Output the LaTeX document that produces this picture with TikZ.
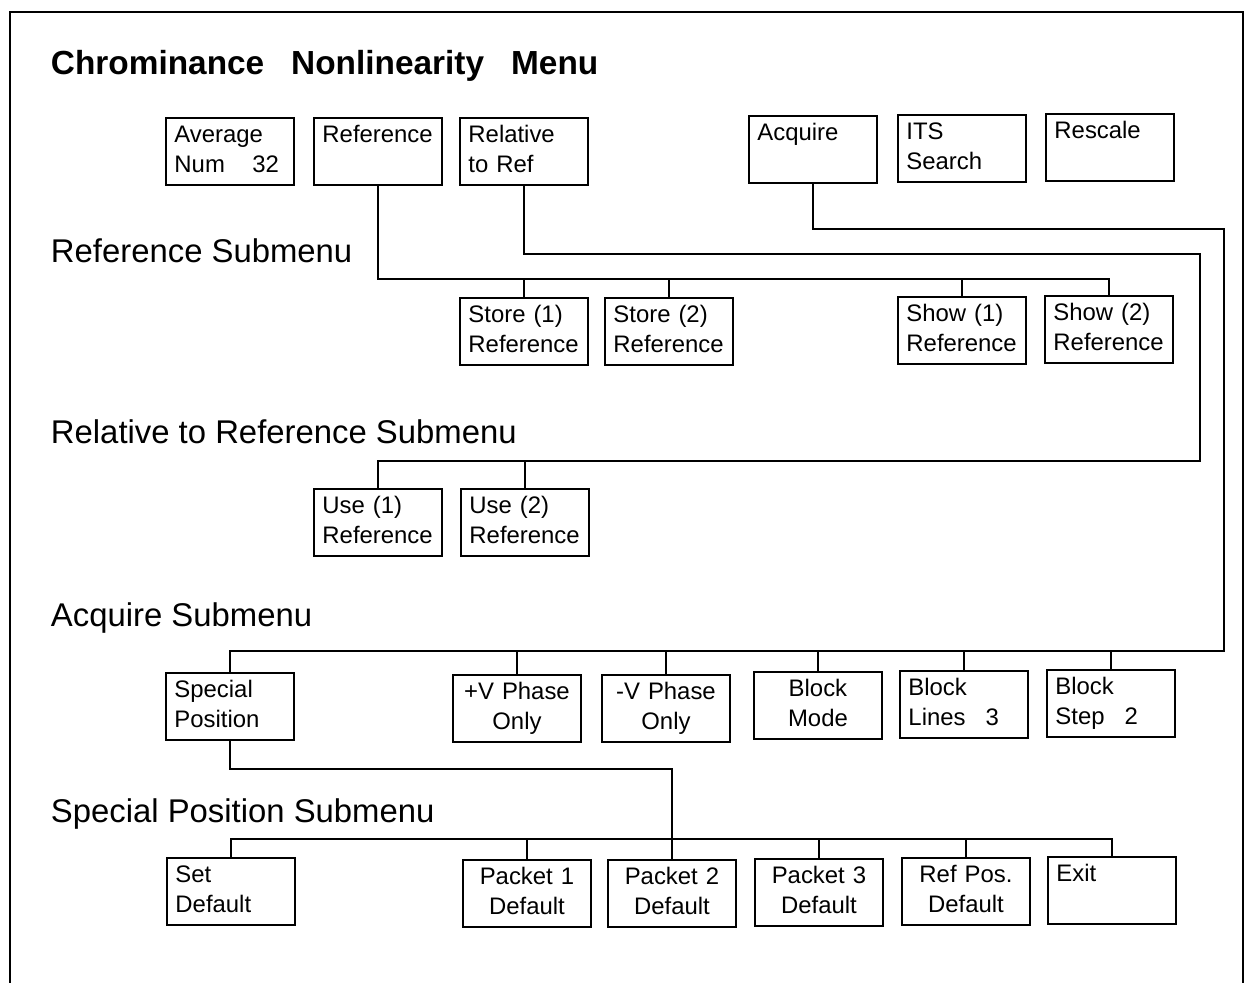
\documentclass[tikz,border=0pt]{standalone}
\usepackage{fontspec}
\setmainfont{Liberation Sans}
\newcommand{\mtext}[2]{\strut#1\\\strut#2}
\begin{document}
\begin{tikzpicture}[
		x=0.02cm, y=-0.02cm, line width=1.1pt,
		menubox/.style={draw, rectangle, anchor=north west, minimum width=2.56cm, minimum height=1.34cm,
			text width=2.22cm, inner xsep=0.17cm, inner ysep=0pt, align=left, font=\fontsize{13.6}{17.5}\selectfont},
		cbox/.style={menubox, align=center},
		heading/.style={anchor=base west, inner sep=0pt, font=\fontsize{18.7}{22}\selectfont},
		title/.style={anchor=base west, inner sep=0pt, font=\fontsize{19}{23}\selectfont\bfseries},
	]
	\useasboundingbox (0,0) rectangle (1252,983);
	\draw (10,983) -- (10,12) -- (1243,12) -- (1243,983);

	\node[title] (menu) at (50,75) {Chrominance\hspace{0.54cm}Nonlinearity\hspace{0.54cm}Menu};
	\node[heading] (hdref)  at (50,263) {Reference Submenu};
	\node[heading] (hdrel)  at (50,443) {Relative to Reference Submenu};
	\node[heading] (hdacq)  at (50,626) {Acquire Submenu};
	\node[heading] (hdspec) at (50,822) {Special Position Submenu};

	% main menu
	\node[menubox] (avg)  at (165,117)  {\mtext{Average}{Num\hspace{0.55cm}32}};
	\node[menubox] (ref)  at (313,117)  {\mtext{Reference}{}};
	\node[menubox] (rel)  at (459,117)  {\mtext{Relative}{to Ref}};
	\node[menubox] (acq)  at (748,115)  {\mtext{Acquire}{}};
	\node[menubox] (its)  at (897,114)  {\mtext{ITS}{Search}};
	\node[menubox] (resc) at (1045,113) {\mtext{Rescale}{}};

	% reference submenu
	\node[menubox] (store1) at (459,297)  {\mtext{Store (1)}{Reference}};
	\node[menubox] (store2) at (604,297)  {\mtext{Store (2)}{Reference}};
	\node[menubox] (show1)  at (897,296)  {\mtext{Show (1)}{Reference}};
	\node[menubox] (show2)  at (1044,295) {\mtext{Show (2)}{Reference}};

	% relative to reference submenu
	\node[menubox] (use1) at (313,488) {\mtext{Use (1)}{Reference}};
	\node[menubox] (use2) at (460,488) {\mtext{Use (2)}{Reference}};

	% acquire submenu
	\node[menubox] (spec)   at (165,672)  {\mtext{Special}{Position}};
	\node[cbox]    (vplus)  at (452,674)  {\mtext{+V Phase}{Only}};
	\node[cbox]    (vminus) at (601,674)  {\mtext{-V Phase}{Only}};
	\node[cbox]    (bmode)  at (753,671)  {\mtext{Block}{Mode}};
	\node[menubox] (blines) at (899,670)  {\mtext{Block}{Lines\hspace{0.4cm}3}};
	\node[menubox] (bstep)  at (1046,669) {\mtext{Block}{Step\hspace{0.4cm}2}};

	% special position submenu
	\node[menubox] (setdef) at (166,857)  {\mtext{Set}{Default}};
	\node[cbox]    (pk1)    at (462,859)  {\mtext{Packet 1}{Default}};
	\node[cbox]    (pk2)    at (607,859)  {\mtext{Packet 2}{Default}};
	\node[cbox]    (pk3)    at (754,858)  {\mtext{Packet 3}{Default}};
	\node[cbox]    (refpos) at (901,857)  {\mtext{Ref Pos.}{Default}};
	\node[menubox] (exit)   at (1047,856) {\mtext{Exit}{}};

	\coordinate (refbus)   at (0,279);
	\coordinate (relturn)  at (1200,254);
	\coordinate (relbus)   at (1200,461);
	\coordinate (acqturn)  at (1224,229);
	\coordinate (acqbus)   at (1224,651);
	\coordinate (specturn) at (0,769);
	\coordinate (specbus)  at (0,839);

	\draw (ref.south) -- (ref.south |- refbus) -| (show2.north);
	\draw (store1.north) -- (store1.north |- refbus);
	\draw (store2.north) -- (store2.north |- refbus);
	\draw (show1.north) -- (show1.north |- refbus);

	\draw (rel.south) |- (relturn) -- (relbus) -| (use1.north);
	\draw (use2.north) -- (use2.north |- relbus);

	\draw (acq.south) |- (acqturn) -- (acqbus) -| (spec.north);
	\draw (vplus.north) -- (vplus.north |- acqbus);
	\draw (vminus.north) -- (vminus.north |- acqbus);
	\draw (bmode.north) -- (bmode.north |- acqbus);
	\draw (blines.north) -- (blines.north |- acqbus);
	\draw (bstep.north) -- (bstep.north |- acqbus);

	\draw (spec.south) |- (pk2.north |- specturn) -- (pk2.north);
	\draw (setdef.north) -- (setdef.north |- specbus) -| (exit.north);
	\draw (pk1.north) -- (pk1.north |- specbus);
	\draw (pk3.north) -- (pk3.north |- specbus);
	\draw (refpos.north) -- (refpos.north |- specbus);
\end{tikzpicture}
\end{document}
